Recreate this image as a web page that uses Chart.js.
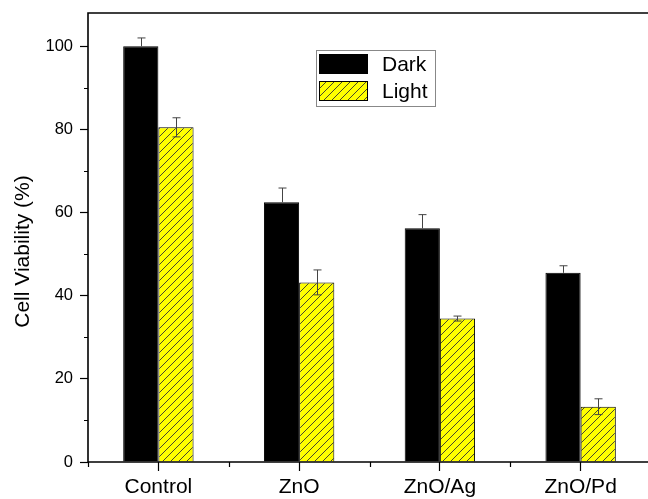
<!DOCTYPE html>
<html>
<head>
<meta charset="utf-8">
<script src="https://cdn.jsdelivr.net/npm/chart.js@4"></script>
<style>
  html, body { margin: 0; padding: 0; background: #fff; overflow: hidden; }
  #wrap { width: 651px; height: 499px; }
</style>
</head>
<body>
<div id="wrap"><canvas id="c" width="651" height="499"></canvas></div>
<script>
const categories = ['Control', 'ZnO', 'ZnO/Ag', 'ZnO/Pd'];
const darkValues = [100, 62.5, 56.2, 45.5];
const darkErrors = [2.0, 3.4, 3.3, 1.7];
const lightValues = [80.5, 43.2, 34.5, 13.3];
const lightErrors = [2.3, 3.0, 0.6, 1.9];
const seriesLabels = ['Dark', 'Light'];
const yTicksLabelled = [0, 20, 40, 60, 80, 100];
const yAxisTitle = 'Cell Viability (%)';

function makeHatch() {
  const s = 8;
  const c = document.createElement('canvas');
  c.width = s; c.height = s;
  const g = c.getContext('2d');
  g.fillStyle = '#ffff00';
  g.fillRect(0, 0, s, s);
  g.strokeStyle = '#333';
  g.lineWidth = 0.9;
  g.beginPath();
  g.moveTo(0, s); g.lineTo(s, 0);
  g.moveTo(-1, 1); g.lineTo(1, -1);
  g.moveTo(s - 1, s + 1); g.lineTo(s + 1, s - 1);
  g.stroke();
  return g.createPattern(c, 'repeat');
}
const hatch = makeHatch();

const errorBarPlugin = {
  id: 'errorBars',
  afterDatasetsDraw(chart) {
    const ctx = chart.ctx;
    const y = chart.scales.y;
    const errs = [darkErrors, lightErrors];
    ctx.save();
    ctx.strokeStyle = '#444';
    ctx.lineWidth = 1;
    chart.data.datasets.forEach((ds, di) => {
      const meta = chart.getDatasetMeta(di);
      meta.data.forEach((bar, i) => {
        const v = ds.data[i], e = errs[di][i];
        const x = Math.round(bar.x) + 0.5;
        const yTop = y.getPixelForValue(v + e);
        const yBot = di === 0 ? y.getPixelForValue(v) : y.getPixelForValue(v - e);
        ctx.beginPath();
        ctx.moveTo(x, yTop); ctx.lineTo(x, yBot);
        ctx.moveTo(x - 4, yTop); ctx.lineTo(x + 4, yTop);
        if (di === 1) { ctx.moveTo(x - 4, yBot); ctx.lineTo(x + 4, yBot); }
        ctx.stroke();
      });
    });
    ctx.restore();
  }
};

const framePlugin = {
  id: 'frame',
  afterDraw(chart) {
    const ctx = chart.ctx;
    const a = chart.chartArea;
    const x = chart.scales.x, y = chart.scales.y;
    ctx.save();
    ctx.strokeStyle = '#000';
    ctx.lineWidth = 1.6;
    ctx.beginPath();
    ctx.moveTo(a.right + 5, a.top); ctx.lineTo(a.left, a.top);
    ctx.lineTo(a.left, a.bottom); ctx.lineTo(a.right + 5, a.bottom);
    ctx.stroke();
    // minor ticks y
    ctx.lineWidth = 1.2;
    ctx.beginPath();
    for (let v = 10; v < y.max; v += 20) {
      const py = Math.round(y.getPixelForValue(v)) + 0.5;
      ctx.moveTo(a.left, py); ctx.lineTo(a.left - 4, py);
    }
    // minor ticks x at category boundaries
    for (let i = 0; i <= categories.length; i++) {
      const px = Math.round(x.getPixelForValue(i - 0.5)) + 0.5;
      ctx.moveTo(px, a.bottom); ctx.lineTo(px, a.bottom + 5);
    }
    ctx.stroke();
    // y axis title
    ctx.fillStyle = '#000';
    ctx.font = '21px "Liberation Sans", Arial, sans-serif';
    ctx.textAlign = 'center';
    ctx.textBaseline = 'middle';
    ctx.translate(23, (a.top + a.bottom) / 2 + 14);
    ctx.rotate(-Math.PI / 2);
    ctx.fillText(yAxisTitle, 0, 0);
    ctx.restore();
  }
};

const legendPlugin = {
  id: 'customLegend',
  afterDraw(chart) {
    const ctx = chart.ctx;
    const a = chart.chartArea;
    const bx = a.left + 228, by = a.top + 37, bw = 119, bh = 56;
    ctx.save();
    ctx.strokeStyle = '#888';
    ctx.lineWidth = 1;
    ctx.strokeRect(bx + 0.5, by + 0.5, bw, bh);
    chart.data.datasets.forEach((ds, i) => {
      const sy = by + 4 + i * 27;
      ctx.fillStyle = ds.backgroundColor;
      ctx.fillRect(bx + 3, sy, 49, 20);
      ctx.strokeStyle = '#000';
      ctx.lineWidth = 1;
      ctx.strokeRect(bx + 3.5, sy + 0.5, 48, 19);
      ctx.fillStyle = '#000';
      ctx.font = '21px "Liberation Sans", Arial, sans-serif';
      ctx.textAlign = 'left';
      ctx.textBaseline = 'middle';
      ctx.fillText(ds.label, bx + 66, sy + 11);
    });
    ctx.restore();
  }
};

new Chart(document.getElementById('c'), {
  type: 'bar',
  data: {
    labels: categories,
    datasets: [
      { label: seriesLabels[0], data: darkValues, backgroundColor: '#000000', borderColor: '#000', borderWidth: 1 },
      { label: seriesLabels[1], data: lightValues, backgroundColor: hatch, borderColor: '#000', borderWidth: 1 }
    ]
  },
  options: {
    responsive: false,
    animation: false,
    layout: { padding: { top: 13, right: 0, left: 0, bottom: 0 } },
    datasets: { bar: { categoryPercentage: 0.5, barPercentage: 1.0 } },
    plugins: { legend: { display: false }, tooltip: { enabled: false } },
    scales: {
      x: {
        grid: { offset: false, drawOnChartArea: false, drawTicks: true, tickLength: 9, tickColor: '#000', tickWidth: 1.2 },
        border: { display: false },
        ticks: { color: '#000', font: { size: 21, family: '"Liberation Sans", Arial, sans-serif' }, padding: 4, maxRotation: 0 },
        afterFit(s) { s.height = 37; s.paddingLeft = 0; s.paddingRight = 0; }
      },
      y: {
        min: 0, max: 108,
        grid: {
          drawOnChartArea: false, drawTicks: true, tickLength: 8, tickWidth: 1.2,
          tickColor: (c) => (c.tick && yTicksLabelled.includes(c.tick.value)) ? '#000' : 'rgba(0,0,0,0)'
        },
        border: { display: false },
        ticks: {
          stepSize: 20, color: '#000', padding: 7,
          font: { size: 16.5, family: '"Liberation Sans", Arial, sans-serif' },
          callback: (v) => yTicksLabelled.includes(v) ? String(v) : ''
        },
        afterFit(s) { s.width = 88; s.paddingTop = 0; s.paddingBottom = 0; }
      }
    }
  },
  plugins: [errorBarPlugin, framePlugin, legendPlugin]
});
</script>
</body>
</html>
